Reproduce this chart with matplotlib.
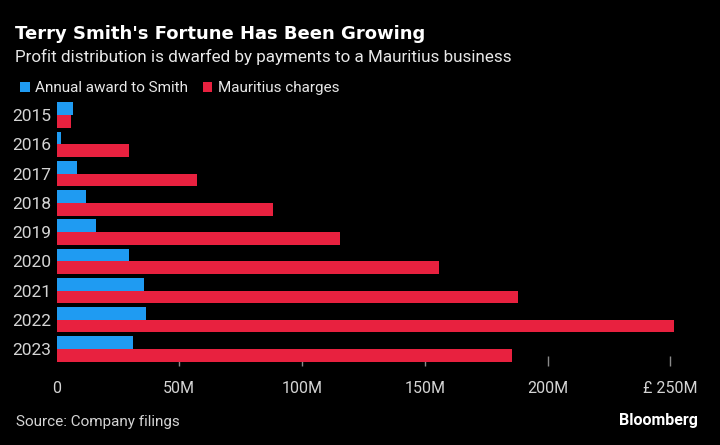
import matplotlib.pyplot as plt
import numpy as np

# data (GBP millions)
years = ["2015", "2016", "2017", "2018", "2019", "2020", "2021", "2022", "2023"]
award_to_smith = [6.8, 1.7, 8.2, 12.0, 16.2, 29.6, 35.6, 36.4, 31.1]
mauritius_charges = [6.0, 29.4, 57.1, 88.3, 115.6, 155.7, 187.8, 251.3, 185.5]
tick_vals = [0, 50, 100, 150, 200, 250]
tick_labels = ["0", "50M", "100M", "150M", "200M", "£ 250M"]

blue = "#1f9bf2"
red = "#e8213f"
grey = "#d4d4d4"

plt.rcParams['font.family'] = ['Roboto', 'DejaVu Sans']

fig = plt.figure(figsize=(7.2, 4.45), dpi=100, facecolor="black")
ax = fig.add_axes([56.5 / 720, 0.1775, 650.8 / 720, 0.6045])
ax.set_facecolor("black")

y = np.arange(len(years))
h = 0.4325
b1 = ax.barh(y - h / 2, award_to_smith, height=h, color=blue, zorder=3,
             label="Annual award to Smith")
b2 = ax.barh(y + h / 2, mauritius_charges, height=h, color=red, zorder=3,
             label="Mauritius charges")

ax.set_xlim(0, 265)
ax.set_ylim(8.58, -0.62)

for s in ax.spines.values():
    s.set_visible(False)

ax.set_yticks(y)
ax.set_yticklabels(years)
ax.tick_params(axis="y", length=0, pad=4, labelsize=12.5, labelcolor=grey)

ax.set_xticks(tick_vals)
ax.set_xticklabels(tick_labels)
ax.tick_params(axis="x", direction="in", length=7, width=1, color="#8a8a8a",
               pad=11, labelsize=11.5, labelcolor=grey)
ax.xaxis.get_major_ticks()[0].tick1line.set_visible(False)

fig.text(15 / 720, 1 - 34 / 445, "Terry Smith's Fortune Has Been Growing",
         color="white", fontsize=12.95, fontweight="bold", va="center",
         family="DejaVu Sans")
fig.text(15 / 720, 1 - 57 / 445,
         "Profit distribution is dwarfed by payments to a Mauritius business",
         color="#e8e8e8", fontsize=12.25, va="center")

fig.legend(handles=[b1, b2], loc="center left",
           bbox_to_anchor=(6 / 720, 1 - 88 / 445), ncol=2, frameon=False,
           fontsize=11, labelcolor="#e8e8e8", handlelength=0.65,
           handleheight=0.65, handletextpad=0.35, columnspacing=0.95)

fig.text(16 / 720, 1 - 422 / 445, "Source: Company filings", color=grey,
         fontsize=11, va="center")
fig.text(698 / 720, 1 - 420 / 445, "Bloomberg", color="white",
         fontsize=11.5, fontweight="bold", va="center", ha="right")

fig.savefig("out.png", dpi=100, facecolor="black")
